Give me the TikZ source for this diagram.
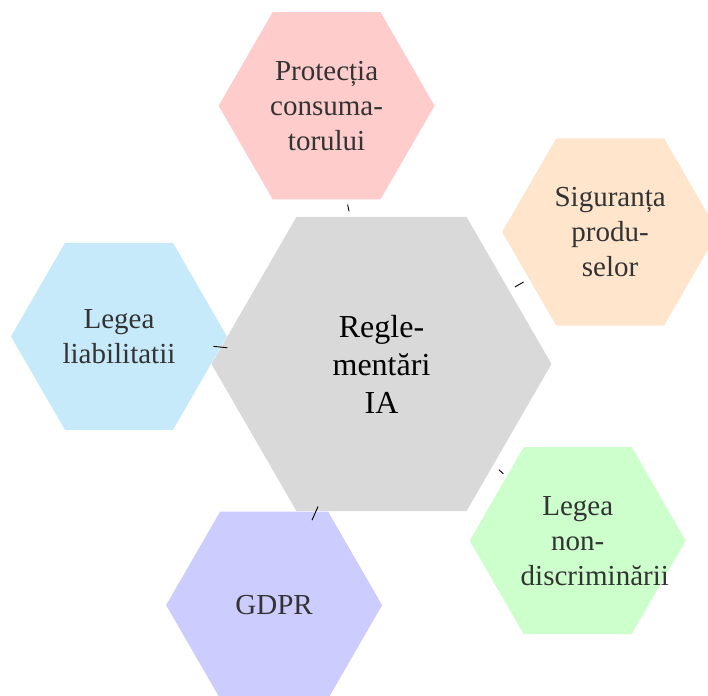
\documentclass[tikz,border=0pt]{standalone}
\usepackage{fontspec}
\setmainfont{Liberation Serif}
\usetikzlibrary{shapes.geometric,calc}
\definecolor{hexgray}{RGB}{217,217,217}
\definecolor{hexpink}{RGB}{255,204,204}
\definecolor{hexorange}{RGB}{255,229,204}
\definecolor{hexblue}{RGB}{198,234,250}
\definecolor{hexgreen}{RGB}{204,255,204}
\definecolor{hexpurple}{RGB}{204,204,255}
\definecolor{txtgray}{RGB}{51,51,51}
\begin{document}
\begin{tikzpicture}[x=1pt,y=1pt,
  hexbase/.style={regular polygon, regular polygon sides=6, inner sep=0pt, outer sep=0pt, draw=none, align=center},
  hexmain/.style={hexbase, fill=hexgray, minimum size=340pt, text width=100pt, font=\fontsize{32}{38}\selectfont, text=black},
  hexsub/.style={hexbase, minimum size=216pt, text width=114pt, font=\fontsize{29}{35}\selectfont, text=txtgray},
  conn/.style={draw=black, line width=0.9pt}]
\useasboundingbox (0,0) rectangle (708,695);
\node[hexmain] (c) at (381.5,331) {Regle-\\mentări\\IA};
\node[hexsub, fill=hexpink]   (p1) at ([shift={(102:264)}]c) {Protecția\\consuma-\\torului};
\node[hexsub, fill=hexorange] (p2) at ([shift={(30:264)}]c)  {Siguranța\\produ-\\selor};
\node[hexsub, fill=hexgreen]  (p3) at ([shift={(-42:264)}]c) {Legea\\non-\\discriminării};
\node[hexsub, fill=hexpurple] (p4) at ([shift={(-114:264)}]c) {GDPR};
\node[hexsub, fill=hexblue]   (p5) at ([shift={(174:264)}]c) {Legea\\liabilitatii};
\draw[conn] ($(c)!156pt!(p1)$) -- ($(c)!163pt!(p1)$);
\draw[conn] ($(c)!154pt!(p2)$) -- ($(c)!164pt!(p2)$);
\draw[conn] ($(c)!158pt!(p3)$) -- ($(c)!164pt!(p3)$);
\draw[conn] ($(c)!156pt!(p4)$) -- ($(c)!171pt!(p4)$);
\draw[conn] ($(c)!155pt!(p5)$) -- ($(c)!169pt!(p5)$);
\end{tikzpicture}
\end{document}
